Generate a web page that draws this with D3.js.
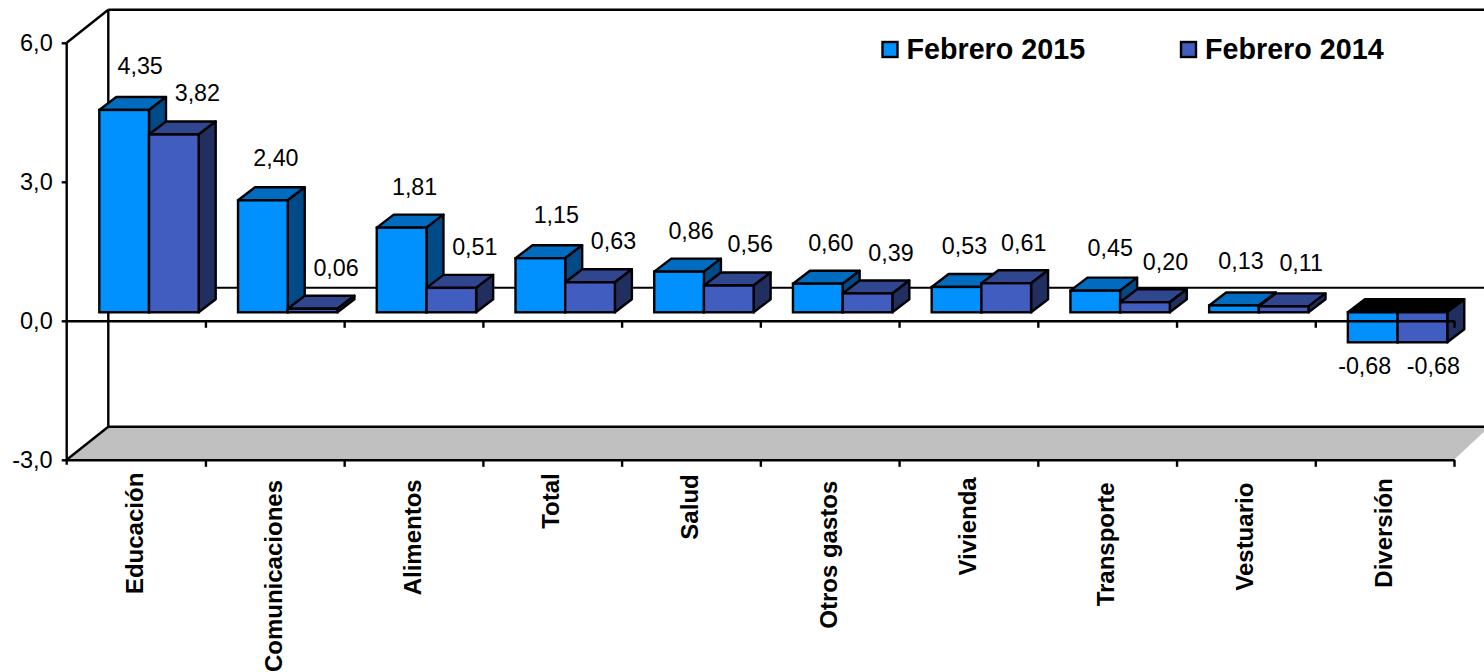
<!DOCTYPE html>
<html><head><meta charset="utf-8">
<script src="https://cdn.jsdelivr.net/npm/d3@7"></script>
<style>html,body{margin:0;padding:0;background:#fff}svg{display:block}text{font-family:"Liberation Sans",Arial,sans-serif;fill:#000}</style>
</head><body><svg id="c" width="1484" height="672"></svg>
<script>
const categories = ["Educación","Comunicaciones","Alimentos","Total","Salud","Otros gastos","Vivienda","Transporte","Vestuario","Diversión"];
const feb2015 = [4.35,2.40,1.81,1.15,0.86,0.60,0.53,0.45,0.13,-0.68];
const feb2014 = [3.82,0.06,0.51,0.63,0.56,0.39,0.61,0.20,0.11,-0.68];
const seriesNames = ["Febrero 2015","Febrero 2014"];
const yTicks = [-3,0,3,6];

const svg = d3.select("#c");
const locale = d3.formatLocale({decimal:",",thousands:".",grouping:[3],currency:["",""],minus:"-"});
const f1 = locale.format(".1f"), f2 = locale.format(".2f");

const y = d3.scaleLinear().domain([-3,6]).range([459.8,42.8]);
const x = d3.scaleLinear().domain([0,10]).range([66.7,1454]);
const band = d3.scaleBand().domain(categories).range([66.7,1454]);
const wall = {dx:41.6, dy:-33}, rightEdge = 1484;
const depth = {dx:17, dy:-13}, barW = 49.7, barStart = 32.6, barShift = -8.5;
const looks = [
 {front:"#0091ff",top:"#006cbf",side:"#004a88"},
 {front:"#405dbf",top:"#30468f",side:"#202f60"}];
const sw = 2.4;
const line = (g,x1,y1,x2,y2,w=sw)=>g.append("line").attr("x1",x1).attr("y1",y1).attr("x2",x2).attr("y2",y2).attr("stroke","#000").attr("stroke-width",w);

// layout fine-tuning of free-floating labels
const nudge = [
 [[3,-3],[0,-2],[0,0],[3,-3],[-1,0],[0,0],[-5,0],[2,-2],[-6,-4],[0,0]],
 [[0,-1],[0,0],[0,0],[0,-1],[-2,-1],[0,0],[-6,0],[-3,0],[-6,-3],[0,0]]];
const catTop = [472.7,480,479.3,473.3,474.3,480.7,477.3,482.3,482.7,478.3];

// floor and back wall
const back = svg.append("g");
back.append("polygon").attr("fill","#c0c0c0").attr("points",[
 [x(0),y(-3)],[x(0)+wall.dx,y(-3)+wall.dy],[rightEdge,y(-3)+wall.dy],[rightEdge,y(-3)+wall.dy+5],[x(10),y(-3)]].join(" "));
line(back,x(0)+wall.dx,y(6)+wall.dy,rightEdge,y(6)+wall.dy);
line(back,x(0)+wall.dx,y(6)+wall.dy,x(0)+wall.dx,y(-3)+wall.dy);
line(back,x(0)+wall.dx,y(-3)+wall.dy,rightEdge,y(-3)+wall.dy);
line(back,x(0)+wall.dx,y(0)+wall.dy,rightEdge,y(0)+wall.dy,2);
line(back,x(0),y(6),x(0)+wall.dx,y(6)+wall.dy);
line(back,x(0),y(-3),x(0)+wall.dx,y(-3)+wall.dy);

// bars
const bars = svg.append("g"), labels = svg.append("g");
categories.forEach((c,i)=>{
  [feb2015,feb2014].forEach((vals,s)=>{
    const v = vals[i], L = looks[s];
    const x0 = x(i)+barStart+s*barW, x1 = x0+barW;
    const h = Math.abs(y(v)-y(0)) + (v>=0 ? 0.8 : -1.5);
    const yBase = y(0)+barShift;
    const yT = v>=0 ? yBase-h : yBase, yB = v>=0 ? yBase : yBase+h;
    const g = bars.append("g");
    g.append("polygon").attr("points",[[x0,yT],[x0+depth.dx,yT+depth.dy],[x1+depth.dx,yT+depth.dy],[x1,yT]].join(" "))
      .attr("fill",v<0?"#000":L.top).attr("stroke","#000").attr("stroke-width",sw).attr("stroke-linejoin","round");
    g.append("polygon").attr("points",[[x1,yT],[x1+depth.dx,yT+depth.dy],[x1+depth.dx,yB+depth.dy],[x1,yB]].join(" "))
      .attr("fill",L.side).attr("stroke","#000").attr("stroke-width",sw).attr("stroke-linejoin","round");
    g.append("rect").attr("x",x0).attr("y",yT).attr("width",barW).attr("height",yB-yT)
      .attr("fill",L.front).attr("stroke","#000").attr("stroke-width",sw);
    const lx = x0+barW/2 + (v>=0 ? (s?23.5:13) : (s?11:-8)) + nudge[s][i][0];
    const ly = (v>=0 ? yT-41 : yB+23) + nudge[s][i][1];
    labels.append("text").attr("x",lx).attr("y",ly).attr("dy","0.36em").attr("text-anchor","middle")
      .style("font-size","23.3px").text(f2(v));
  });
});

// front axes
const axisStyle = g=>{g.selectAll("path,line").attr("stroke","#000").attr("stroke-width",sw);};
const yAxis = svg.append("g").attr("transform",`translate(${x(0)},0)`)
  .call(d3.axisLeft(y).tickValues(yTicks).tickFormat(f1).tickSize(5).tickSizeOuter(0).tickPadding(9)).call(axisStyle);
yAxis.selectAll("text").style("font-size","23.5px").style("font-family",'"Liberation Sans",Arial,sans-serif');
yAxis.select(".domain").attr("d",`M0,${y(6)}V${y(-3)+5}`);

const xTicks = d3.range(1,11);
[0,-3].forEach(v=>{
  svg.append("g").attr("transform",`translate(0,${y(v)})`)
    .call(d3.axisBottom(x).tickValues(xTicks).tickFormat("").tickSize(7).tickSizeOuter(0)).call(axisStyle);
});

// category labels
const catLabels = svg.append("g");
categories.forEach((c,i)=>{
  catLabels.append("text").attr("transform",`translate(${band(c)+band.bandwidth()/2-1.5},${catTop[i]}) rotate(-90)`)
    .attr("text-anchor","end").attr("dy","0.36em").style("font-size","24px").style("font-weight","700").text(c);
});

// legend
const legend = svg.append("g");
seriesNames.forEach((n,i)=>{
  const lx = [881.5,1180][i];
  legend.append("rect").attr("x",lx+1).attr("y",42).attr("width",15).attr("height",15).attr("fill",looks[i].front).attr("stroke","#000").attr("stroke-width",2.4);
  legend.append("text").attr("x",lx+25).attr("y",59).style("font-size","28.7px").style("font-weight","700").text(n);
});
svg.node().appendChild(labels.node());
</script></body></html>
